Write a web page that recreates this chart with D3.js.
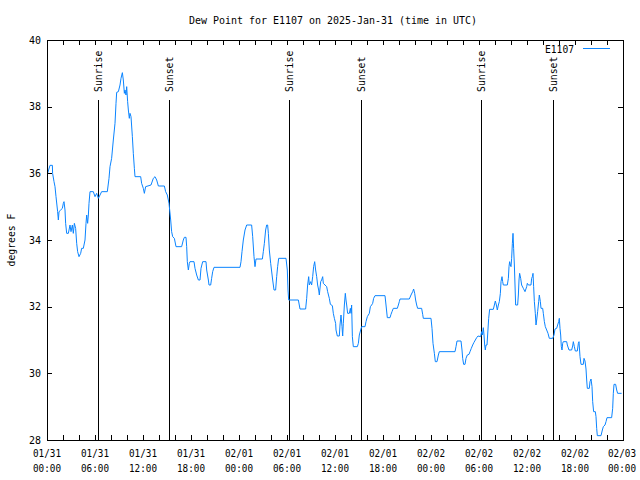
<!DOCTYPE html>
<html>
<head>
<meta charset="utf-8">
<script src="https://cdn.jsdelivr.net/npm/d3@7"></script>
<style>
  html, body { margin: 0; padding: 0; background: #fff; }
  svg { display: block; }
  text { font-family: "DejaVu Sans Mono", "Liberation Mono", monospace; font-size: 11px; fill: #000; }
</style>
</head>
<body>
<div id="chart"></div>
<script>
// ---- data ----
const chartTitle = "Dew Point for E1107 on 2025-Jan-31 (time in UTC)";
const yLabel = "degrees F";
const seriesName = "E1107";

// hours since 2025-01-31 00:00 UTC
const hours = [0.08,0.375,0.67,0.7,0.875,1.0,1.125,1.33,1.42,1.5,1.71,1.92,2.04,2.125,2.25,2.33,2.46,2.67,2.875,3.0,3.17,3.29,3.42,3.58,3.71,3.83,4.0,4.21,4.33,4.54,4.75,4.875,4.96,5.08,5.17,5.25,5.375,5.79,6.0,6.21,6.42,6.625,6.83,7.54,7.75,7.875,8.08,8.29,8.5,8.625,8.71,8.92,9.125,9.25,9.42,9.54,9.67,9.75,9.875,9.96,10.08,10.17,10.29,10.375,10.5,10.67,10.79,10.92,11.0,11.71,11.83,12.04,12.17,12.33,13.0,13.29,13.5,13.71,13.92,14.67,14.83,15.04,15.25,15.46,15.58,15.71,15.92,16.125,16.83,17.04,17.17,17.375,17.46,17.54,17.67,17.79,17.875,18.375,18.5,18.71,18.92,19.125,19.25,19.46,19.875,19.96,20.17,20.25,20.46,20.58,20.71,20.875,24.125,24.25,24.375,24.54,24.75,24.96,25.58,25.71,25.875,26.0,26.125,26.92,27.04,27.17,27.33,27.46,27.58,27.67,27.79,27.96,28.21,28.375,28.58,28.71,28.83,28.96,29.875,30.04,30.125,30.21,31.42,31.625,32.33,32.46,32.58,32.71,32.79,32.96,33.08,33.21,33.33,33.46,33.58,33.71,33.83,33.96,34.04,34.21,34.33,34.46,34.54,34.96,35.08,35.29,35.42,35.67,35.79,35.92,36.08,36.125,36.29,36.54,36.625,36.75,36.875,36.96,37.04,37.17,37.29,37.375,37.46,37.58,37.79,37.92,38.0,38.08,38.17,38.29,38.79,38.92,39.04,39.21,39.33,39.75,39.875,40.04,40.29,40.42,40.58,40.71,40.83,41.0,42.25,42.375,42.54,42.875,43.0,43.125,43.29,43.79,43.92,44.04,44.125,45.29,45.5,45.71,45.83,45.96,46.08,46.21,46.33,46.83,46.96,47.04,48.0,48.125,48.25,48.42,48.54,48.75,48.92,49.04,51.0,51.125,51.25,51.75,51.875,51.96,52.08,52.25,52.375,52.54,52.75,52.875,53.04,53.21,53.375,53.54,53.71,53.875,54.21,54.33,54.42,54.54,54.625,54.71,54.79,54.875,55.0,55.08,55.21,55.33,55.79,55.92,56.04,56.17,56.29,56.42,56.54,56.67,56.75,56.875,56.96,57.04,57.54,57.67,57.75,57.83,57.92,58.0,58.08,58.17,58.25,58.33,58.42,58.5,58.58,58.83,58.92,59.0,59.08,59.21,59.33,59.54,59.75,59.96,60.04,60.17,60.5,60.58,60.67,60.75,60.83,60.92,61.04,61.125,61.21,61.33,61.46,61.54,61.67,61.75,61.96,62.04,62.17,62.29,62.46,62.625,62.79,63.21,63.375,63.5,63.71,63.83,63.96,64.04,64.125,64.21,64.29,64.375,64.46,64.54,64.96,65.04,65.25,65.58,65.71,65.79,65.92,66.04,66.29,66.42,66.5,66.625,66.75,67.04,67.125,67.25,67.375,67.46,67.54,67.79,67.875,68.0,68.125,68.21,68.33,68.54,68.625,68.71,68.79,69.25,69.42,69.54,69.75,69.875,70.0,70.58,70.71,70.79,70.875,71.08,71.21,71.33,71.83];

const dewF = [36.0,36.24,36.24,36.0,35.75,35.6,35.3,34.85,34.6,34.85,34.9,34.95,35.1,35.15,34.9,34.5,34.2,34.2,34.45,34.25,34.45,34.2,34.5,34.35,33.9,33.65,33.5,33.6,33.75,33.75,34.0,34.5,34.75,34.5,34.75,35.1,35.45,35.45,35.3,35.4,35.25,35.35,35.45,35.45,35.85,36.2,36.45,37.0,37.5,38.1,38.43,38.45,38.65,38.85,39.02,38.8,38.4,38.5,38.35,38.6,38.15,37.9,37.65,37.8,37.7,37.1,36.6,36.15,35.9,35.9,35.7,35.55,35.4,35.6,35.65,35.85,35.9,35.8,35.62,35.62,35.45,35.35,35.1,34.6,34.25,34.1,34.05,33.8,33.8,34.0,34.08,34.08,33.8,33.35,33.1,33.3,33.35,33.35,33.15,32.95,32.8,32.8,33.15,33.35,33.35,33.1,32.8,32.65,32.65,32.85,33.05,33.18,33.18,33.35,33.65,34.0,34.3,34.45,34.45,34.1,33.5,33.2,33.43,33.43,33.65,33.9,34.3,34.45,34.45,34.2,33.7,33.3,32.8,32.5,32.5,32.9,33.2,33.45,33.45,33.1,32.5,32.2,32.2,31.93,31.93,32.25,32.65,32.9,32.65,32.75,32.65,32.9,33.2,33.35,33.1,32.9,32.65,32.5,32.35,32.75,32.8,32.9,32.7,32.6,32.45,32.25,32.07,32.03,31.8,31.65,31.5,31.3,31.12,31.12,31.45,31.75,31.4,31.12,31.5,32.05,32.4,32.2,32.05,31.8,31.8,31.95,31.8,32.05,31.1,30.8,30.8,30.9,31.15,31.3,31.4,31.4,31.55,31.7,31.8,32.0,32.05,32.1,32.25,32.33,32.33,32.05,31.67,31.67,31.77,31.85,31.95,31.95,32.05,32.15,32.23,32.23,32.35,32.45,32.53,32.4,32.2,32.05,31.95,31.95,31.77,31.65,31.65,31.35,30.9,30.6,30.35,30.35,30.55,30.65,30.65,30.8,30.97,30.97,30.7,30.45,30.27,30.27,30.45,30.55,30.57,30.65,30.75,30.85,30.93,31.0,31.07,31.12,31.1,31.25,31.15,31.37,31.15,30.85,30.7,30.85,30.85,31.15,31.65,31.92,31.92,32.05,32.17,32.05,31.9,32.05,32.15,32.4,32.75,32.9,32.75,32.65,32.65,32.85,33.2,33.35,33.25,33.2,33.45,33.9,34.2,33.75,33.25,32.65,32.05,32.05,32.35,32.8,33.0,32.85,32.65,32.55,32.45,32.6,32.7,32.65,32.65,32.85,32.9,33.0,32.6,32.15,31.8,31.45,31.6,31.85,32.15,32.35,32.15,31.95,31.95,31.8,31.55,31.4,31.3,31.2,31.05,31.05,31.15,31.33,31.35,31.45,31.55,31.65,31.35,31.15,30.8,30.7,30.9,30.95,30.95,30.85,30.7,30.7,30.82,30.95,30.8,30.67,30.67,30.9,30.95,30.5,30.27,30.27,30.45,30.37,30.13,29.8,29.55,29.55,29.75,29.83,29.6,29.15,28.85,28.85,28.7,28.35,28.13,28.13,28.3,28.4,28.45,28.55,28.67,28.67,28.95,29.4,29.67,29.67,29.5,29.4,29.4];

// sun events (hours since start)
const sunHours = [6.4, 15.3, 30.3, 39.3, 54.3, 63.3];
const sunLabels = ["Sunrise", "Sunset", "Sunrise", "Sunset", "Sunrise", "Sunset"];

// axis ticks
const xMajorHours = [0, 6, 12, 18, 24, 30, 36, 42, 48, 54, 60, 66, 72];
const xTickDates = ["01/31","01/31","01/31","01/31","02/01","02/01","02/01","02/01","02/02","02/02","02/02","02/02","02/03"];
const xTickTimes = ["00:00","06:00","12:00","18:00","00:00","06:00","12:00","18:00","00:00","06:00","12:00","18:00","00:00"];
const yTicks = [28, 30, 32, 34, 36, 38, 40];

// ---- drawing ----
const W = 640, H = 480;
const L = 47, R = 623, T = 40, B = 440;
const lineColor = "#0a84ff";

const svg = d3.select("#chart").append("svg").attr("width", W).attr("height", H);
svg.append("rect").attr("width", W).attr("height", H).attr("fill", "#fff");

const x = d3.scaleLinear().domain([0, 72]).range([L, R]);
const y = d3.scaleLinear().domain([28, 40]).range([B, T]);

const xMinor = d3.range(0, 73, 2).filter(h => h % 6 !== 0);

function styleTicks(g) {
  g.select(".domain").remove();
  g.selectAll("line").attr("stroke", "#000").attr("shape-rendering", "crispEdges");
}
// x ticks bottom (inward)
svg.append("g").attr("transform", `translate(0,${B})`)
  .call(d3.axisBottom(x).tickValues(xMajorHours.concat(xMinor)).tickSize(-5).tickFormat(""))
  .call(styleTicks);
// x ticks top (inward)
svg.append("g").attr("transform", `translate(0,${T})`)
  .call(d3.axisTop(x).tickValues(xMajorHours.concat(xMinor)).tickSize(-5).tickFormat(""))
  .call(styleTicks);
// y ticks left/right (inward)
svg.append("g").attr("transform", `translate(${L},0)`)
  .call(d3.axisLeft(y).tickValues(yTicks).tickSize(-5).tickFormat(""))
  .call(styleTicks);
svg.append("g").attr("transform", `translate(${R},0)`)
  .call(d3.axisRight(y).tickValues(yTicks).tickSize(-5).tickFormat(""))
  .call(styleTicks);

// x tick labels (two lines); last one kept inside the canvas
const xl = svg.append("g");
xMajorHours.forEach((h, i) => {
  const last = i === xMajorHours.length - 1;
  const cx = last ? W - 4 : x(h);
  const anchor = last ? "end" : "middle";
  xl.append("text").attr("x", cx).attr("y", 453).attr("text-anchor", anchor)
    .attr("dominant-baseline", "central").attr("textLength", 28).attr("lengthAdjust", "spacingAndGlyphs")
    .text(xTickDates[i]);
  xl.append("text").attr("x", cx).attr("y", 468).attr("text-anchor", anchor)
    .attr("dominant-baseline", "central").attr("textLength", 28).attr("lengthAdjust", "spacingAndGlyphs")
    .text(xTickTimes[i]);
});

// y tick labels
svg.append("g").selectAll("text").data(yTicks).join("text")
  .attr("x", 41).attr("y", d => y(d)).attr("text-anchor", "end")
  .attr("dominant-baseline", "central").attr("textLength", 12).attr("lengthAdjust", "spacingAndGlyphs")
  .text(d => d);

// y axis label
svg.append("text").attr("transform", `translate(11,${(T + B) / 2}) rotate(-90)`)
  .attr("text-anchor", "middle").attr("dominant-baseline", "central")
  .attr("textLength", 53).attr("lengthAdjust", "spacingAndGlyphs")
  .text(yLabel);

// title
svg.append("text").attr("x", 333).attr("y", 20).attr("text-anchor", "middle")
  .attr("dominant-baseline", "central").attr("textLength", 288).attr("lengthAdjust", "spacingAndGlyphs")
  .text(chartTitle);

// sun lines and labels
sunHours.forEach((h, i) => {
  const sx = Math.round(x(h)) + 0.5;
  svg.append("line").attr("x1", sx).attr("x2", sx).attr("y1", 100).attr("y2", B)
    .attr("stroke", "#000").attr("stroke-width", 1);
  svg.append("text").attr("transform", `translate(${sx},92) rotate(-90)`)
    .attr("text-anchor", "start").attr("dominant-baseline", "central")
    .attr("textLength", sunLabels[i].length * 5.9).attr("lengthAdjust", "spacingAndGlyphs")
    .text(sunLabels[i]);
});

// data line
const pts = hours.map((h, i) => [h, dewF[i]]);
svg.append("path").datum(pts)
  .attr("fill", "none").attr("stroke", lineColor).attr("stroke-width", 1)
  .attr("d", d3.line().x(d => x(d[0])).y(d => y(d[1])));

// frame
svg.append("rect").attr("x", L + 0.5).attr("y", T + 0.5).attr("width", R - L).attr("height", B - T)
  .attr("fill", "none").attr("stroke", "#000").attr("stroke-width", 1).attr("shape-rendering", "crispEdges");

// legend
svg.append("text").attr("x", 574).attr("y", 49).attr("text-anchor", "end")
  .attr("dominant-baseline", "central").attr("textLength", 29).attr("lengthAdjust", "spacingAndGlyphs")
  .text(seriesName);
svg.append("line").attr("x1", 583).attr("x2", 610).attr("y1", 48.5).attr("y2", 48.5)
  .attr("stroke", lineColor).attr("stroke-width", 1);
</script>
</body>
</html>
